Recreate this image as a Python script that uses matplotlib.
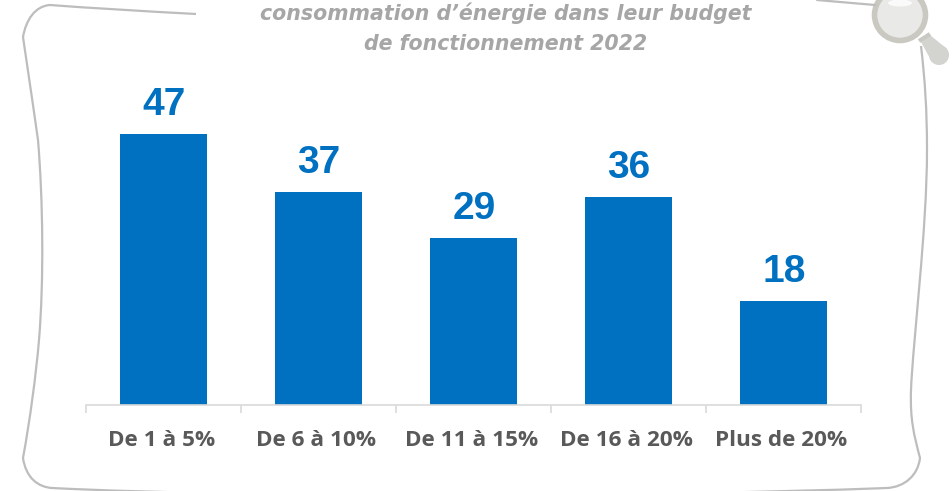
import matplotlib
matplotlib.use("Agg")
import matplotlib.pyplot as plt
from matplotlib.patches import Circle, Ellipse, PathPatch, Polygon
from matplotlib.path import Path
from matplotlib.transforms import ScaledTranslation

categories = ["De 1 à 5%", "De 6 à 10%", "De 11 à 15%", "De 16 à 20%", "Plus de 20%"]
values = [47, 37, 29, 36, 18]
title_lines = ["consommation d’énergie dans leur budget", "de fonctionnement 2022"]

W, H = 953, 491
BLUE = "#0070C0"
FRAME = "#BDBDBD"

fig = plt.figure(figsize=(W / 100, H / 100), dpi=100)

# --- decoration layer, in pixels of the picture ---
deco = fig.add_axes([0, 0, 1, 1])
deco.set_xlim(0, W)
deco.set_ylim(H, 0)
deco.axis("off")

frame_verts = [
    (196, 14), (140, 11), (90, 8), (50, 5),
    (35, 6), (26, 20), (23, 37),
    (30, 85), (36, 125), (38, 140),
    (43, 200), (44, 280), (39, 340),
    (36, 375), (30, 420), (23, 458),
    (26, 478), (38, 487), (52, 488),
    (250, 498), (650, 497), (887, 488),
    (905, 487), (918, 475), (920, 458),
    (914, 435), (910, 420), (911, 390),
    (913, 340), (927, 230), (927, 150),
    (927, 110), (925, 80), (921, 46),
]
frame_codes = [Path.MOVETO] + [Path.CURVE4] * (len(frame_verts) - 1)
deco.add_patch(PathPatch(Path(frame_verts, frame_codes), fill=False, edgecolor=FRAME, lw=1.6))
deco.plot([817, 875], [0, 5], color=FRAME, lw=1.6, solid_capstyle="round")

# loupe
deco.add_patch(Polygon([(921, 42), (930, 35), (947, 49), (932, 62)], facecolor="#D3D3D0", edgecolor="none"))
deco.add_patch(Circle((939, 55), 10, facecolor="#D3D3D0", edgecolor="none"))
deco.plot([919, 930], [41, 34], color="#C9C9C3", lw=3, solid_capstyle="butt")
deco.add_patch(Circle((900, 15), 25.5, facecolor="#E9E9E7", edgecolor="#C9C9C1", lw=4))
deco.add_patch(Ellipse((900, 3), 24, 7, facecolor="#FAFAFA", edgecolor="none"))
deco.set_aspect("equal")

for i, line in enumerate(title_lines):
    deco.text(506, 13 + i * 31, line, ha="center", va="center", fontsize=14.8,
              fontweight="bold", fontstyle="italic", color="#A6A6A6", family="DejaVu Sans")

# --- chart ---
ax = fig.add_axes([86 / W, (H - 405) / H, 775 / W, 346 / H])
ax.patch.set_alpha(0)
ax.bar(range(len(values)), values, width=0.561, color=BLUE)
ax.set_xlim(-0.5, len(values) - 0.5)
ax.set_ylim(0, 60)

for i, v in enumerate(values):
    ax.annotate(str(v), (i, v), xytext=(0.3, 8), textcoords="offset points", ha="center", va="bottom",
                fontsize=28, fontweight="bold", color=BLUE, family="Liberation Sans")

for s in ["top", "left", "right"]:
    ax.spines[s].set_visible(False)
ax.spines["bottom"].set_color("#D9D9D9")
ax.spines["bottom"].set_linewidth(1.2)
ax.set_yticks([])
ax.set_xticks([i - 0.5 for i in range(len(values) + 1)])
ax.set_xticklabels([])
ax.tick_params(axis="x", length=6, width=1.2, color="#D9D9D9")
ax.set_xticks(range(len(values)), labels=categories, minor=True)
ax.tick_params(axis="x", which="minor", length=0, pad=18, labelsize=16.2, labelcolor="#595959")
shift = ScaledTranslation(-2 / 100, 0, fig.dpi_scale_trans)
for lab in ax.get_xticklabels(minor=True):
    lab.set_fontweight("bold")
    lab.set_family("Open Sans")
    lab.set_transform(lab.get_transform() + shift)

fig.savefig("out.png", dpi=100)
